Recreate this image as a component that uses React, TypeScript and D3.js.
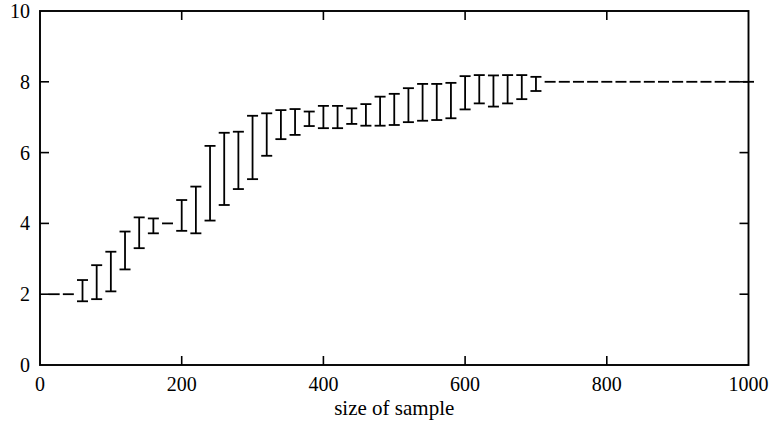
import React from "react";
import * as d3 from "d3";

const sampleSizes = [20, 40, 60, 80, 100, 120, 140, 160, 180, 200, 220, 240, 260, 280, 300, 320, 340, 360, 380, 400, 420, 440, 460, 480, 500, 520, 540, 560, 580, 600, 620, 640, 660, 680, 700, 720, 740, 760, 780, 800, 820, 840, 860, 880, 900, 920, 940, 960, 980, 1000];
const lowValues = [2, 2, 1.8, 1.86, 2.08, 2.7, 3.3, 3.72, 4.0, 3.79, 3.72, 4.08, 4.52, 4.97, 5.25, 5.91, 6.38, 6.5, 6.75, 6.69, 6.69, 6.81, 6.76, 6.76, 6.78, 6.86, 6.9, 6.92, 6.97, 7.22, 7.39, 7.3, 7.39, 7.51, 7.74, 8, 8, 8, 8, 8, 8, 8, 8, 8, 8, 8, 8, 8, 8, 8];
const highValues = [2, 2, 2.4, 2.82, 3.2, 3.77, 4.17, 4.14, 4.0, 4.66, 5.04, 6.19, 6.56, 6.59, 7.04, 7.11, 7.2, 7.23, 7.16, 7.32, 7.32, 7.25, 7.37, 7.58, 7.66, 7.82, 7.94, 7.94, 7.97, 8.16, 8.19, 8.18, 8.19, 8.19, 8.14, 8, 8, 8, 8, 8, 8, 8, 8, 8, 8, 8, 8, 8, 8, 8];
const xTicks = [0, 200, 400, 600, 800, 1000];
const yTicks = [0, 2, 4, 6, 8, 10];
const xLabel = "size of sample";

export default function App() {
  const left = 40, right = 748.5, top = 11, bottom = 365;
  const x = d3.scaleLinear().domain([0, 1000]).range([left, right]);
  const y = d3.scaleLinear().domain([0, 10]).range([bottom, top]);
  const capHalf = 5.5;
  const tickLen = 9;
  const sw = 1.8;
  const ff = "Liberation Serif";

  return (
    <div style={{ fontFamily: "'Liberation Serif', Tinos, 'Times New Roman'" }}>
      <svg width={774} height={431} style={{ position: "absolute", left: 0, top: 0, background: "#fff" }}>
        <style>{`text.lbl { font-family: 'Liberation Serif', Tinos, 'Times New Roman'; }`}</style>
        <rect x={0} y={0} width={774} height={431} fill="#fff" />
        <g stroke="#000" strokeWidth={sw} fill="none">
          {sampleSizes.map((s, i) => {
            const cx = x(s);
            const yl = y(lowValues[i]);
            const yh = y(highValues[i]);
            return (
              <g key={s}>
                {yl !== yh && <line x1={cx} x2={cx} y1={yl} y2={yh} />}
                <line x1={cx - capHalf} x2={cx + capHalf} y1={yh} y2={yh} />
                {yl !== yh && <line x1={cx - capHalf} x2={cx + capHalf} y1={yl} y2={yl} />}
              </g>
            );
          })}
        </g>
        <g stroke="#000" strokeWidth={1.6}>
          {xTicks.slice(1, -1).map((t) => (
            <g key={"xt" + t}>
              <line x1={x(t)} x2={x(t)} y1={bottom} y2={bottom - tickLen} />
              <line x1={x(t)} x2={x(t)} y1={top} y2={top + tickLen} />
            </g>
          ))}
          {yTicks.slice(1, -1).map((t) => (
            <g key={"yt" + t}>
              <line x1={left} x2={left + tickLen} y1={y(t)} y2={y(t)} />
              <line x1={right} x2={right - tickLen} y1={y(t)} y2={y(t)} />
            </g>
          ))}
        </g>
        <rect x={left} y={top} width={right - left} height={bottom - top} fill="none" stroke="#000" strokeWidth={1.9} />
        {xTicks.map((t) => (
          <text key={"xl" + t} className="lbl" fontFamily={ff} x={x(t)} y={391} textAnchor="middle" fontSize={20}>{t}</text>
        ))}
        {yTicks.map((t) => (
          <text key={"yl" + t} className="lbl" fontFamily={ff} x={30} y={y(t)} dy="0.35em" textAnchor="end" fontSize={20}>{t}</text>
        ))}
        <text className="lbl" fontFamily={ff} x={(left + right) / 2} y={415} textAnchor="middle" fontSize={21}>{xLabel}</text>
      </svg>
    </div>
  );
}
